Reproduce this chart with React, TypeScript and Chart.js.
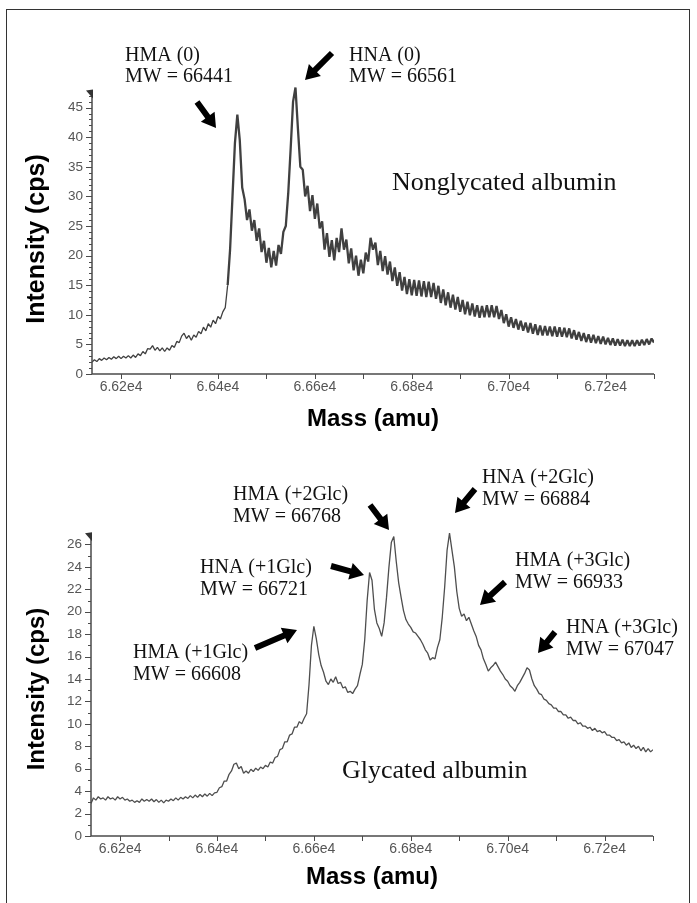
import { useEffect, useRef } from "react";
import { Chart, registerables } from "chart.js";

Chart.register(...registerables);

// ---------- data ----------
const MASS_START = 66140; // first sample (amu)
const MASS_STEP = 5; // sample spacing (amu)
const MASS_MIN = 66140;
const MASS_MAX = 67300;

// Nonglycated albumin, intensity (cps) sampled every 5 amu from 66140 to 67300
const nonglycatedIntensity = [
  2.0, 2.4, 2.1, 2.6, 2.3, 2.7, 2.4, 2.8, 2.5, 2.9, 2.6, 3.0, 2.6, 3.0, 2.7, 3.1, 2.7, 3.2, 2.8, 3.4,
  3.1, 3.8, 3.4, 4.3, 4.2, 4.8, 4.0, 4.5, 3.9, 4.4, 3.8, 4.4, 4.0, 4.8, 4.5, 5.5, 5.3, 6.4, 6.9, 6.0,
  6.5, 5.7, 6.6, 6.2, 7.2, 6.8, 7.9, 7.3, 8.5, 7.9, 9.1, 8.5, 9.7, 9.3, 10.5, 11.2, 15, 21, 30, 39,
  43.8, 39.5, 31.5, 29.5, 26, 27.8, 24.2, 26.0, 22.5, 24.6, 20.6, 22.5, 18.8, 21.3, 18.0, 20.8, 18.3, 21.8, 20.3, 24,
  25, 30.5, 38, 46, 48.4, 41.5, 35, 34.5, 30, 31.8, 27.5, 30.2, 26.2, 28.8, 24.6, 25.8, 21.0, 23.8, 19.8, 22.6,
  19.2, 23.0, 20.6, 24.6, 21.0, 22.7, 18.7, 21.2, 17.5, 20.0, 16.6, 19.3, 17.0, 20.5, 19.0, 23.0, 21.0, 22.2, 18.4, 20.8,
  17.4, 19.9, 16.8, 19.0, 15.7, 18.0, 14.9, 17.2, 14.1, 16.4, 13.5, 16.0, 13.3, 15.9, 13.2, 15.8, 13.1, 15.7, 13.0, 15.6,
  13.0, 15.4, 12.7, 14.9, 12.0, 14.3, 11.6, 13.8, 11.2, 13.4, 10.9, 13.0, 10.5, 12.5, 10.1, 12.2, 9.9, 11.9, 9.7, 11.6,
  9.5, 11.5, 9.6, 11.6, 9.6, 11.6, 9.6, 11.5, 9.3, 10.8, 8.6, 10.1, 8.0, 9.6, 7.8, 9.3, 7.5, 9.0, 7.3, 8.7,
  7.0, 8.6, 6.8, 8.4, 6.6, 8.2, 6.5, 8.1, 6.5, 8.0, 6.4, 8.0, 6.3, 7.9, 6.3, 7.8, 6.2, 7.7, 6.0, 7.4,
  5.8, 7.1, 5.6, 6.9, 5.4, 6.7, 5.3, 6.6, 5.2, 6.4, 5.1, 6.3, 5.0, 6.1, 4.9, 6.0, 4.8, 5.9, 4.8, 5.8,
  4.7, 5.7, 4.7, 5.7, 4.7, 5.7, 4.8, 5.8, 4.9, 5.9, 5.0, 6.0, 5.3,
];

// Glycated albumin, intensity (cps) sampled every 5 amu from 66140 to 67300
const glycatedIntensity = [
  2.9, 3.4, 3.2, 3.5, 3.3, 3.4, 3.2, 3.5, 3.3, 3.4, 3.2, 3.5, 3.3, 3.45, 3.2, 3.3, 3.1, 3.2, 3.0, 3.15,
  3.0, 3.3, 3.1, 3.25, 3.1, 3.3, 3.05, 3.25, 3.0, 3.2, 2.95, 3.2, 3.1, 3.3, 3.15, 3.4, 3.2, 3.45, 3.3, 3.5,
  3.35, 3.6, 3.4, 3.65, 3.45, 3.7, 3.5, 3.75, 3.55, 3.8, 3.6, 3.85, 3.9, 4.3, 4.4, 4.9, 4.9, 5.5, 5.8, 6.4,
  6.5, 6.0, 6.2, 5.6, 5.8, 5.6, 5.95, 5.75, 6.05, 5.85, 6.15, 6.0, 6.3, 6.15, 6.6, 6.5, 7.0, 7.1, 7.7, 7.8,
  8.4, 8.4, 9.0, 9.1, 9.7, 9.7, 10.2, 10.0, 10.5, 10.9, 13.5, 17.0, 18.7, 17.6, 16.2, 15.2, 14.6, 13.8, 13.5, 14.0,
  13.7, 14.2, 13.6, 13.7, 13.2, 13.3, 12.8, 12.9, 12.7, 13.1, 13.4, 14.4, 15.3, 17.5, 21.0, 23.5, 22.8, 20.2, 19.0, 18.5,
  17.8, 19.0, 21.3, 24.0, 26.2, 26.7, 24.5, 22.6, 21.3, 20.1, 19.3, 18.9, 18.6, 18.2, 18.1, 17.8, 17.5, 17.1, 16.6, 16.3,
  15.7, 15.9, 15.8, 16.8, 17.5, 19.5, 22.2, 25.5, 27.0, 25.5, 24.0, 21.8, 20.3, 19.6, 19.8, 19.2, 19.5, 18.9, 18.3, 17.8,
  17.0, 16.6, 15.8, 15.3, 14.7, 15.0, 15.2, 15.5, 15.1, 14.7, 14.4, 14.0, 13.8, 13.4, 13.2, 12.9, 13.4, 13.7, 14.1, 14.5,
  15.0, 14.8, 14.0, 13.4, 13.1, 12.7, 12.6, 12.2, 12.1, 11.8, 11.7, 11.4, 11.4, 11.1, 11.1, 10.8, 10.8, 10.5, 10.6, 10.3,
  10.3, 10.0, 10.1, 9.8, 9.8, 9.6, 9.7, 9.4, 9.6, 9.3, 9.4, 9.2, 9.3, 9.0, 9.0, 8.8, 8.8, 8.5, 8.6, 8.3,
  8.4, 8.1, 8.3, 7.9, 8.1, 7.8, 8.0, 7.6, 7.9, 7.5, 7.8, 7.5, 7.7,
];

const X_TICK_STEP = 100;
const X_LABEL_STEP = 200;
const X_TICK_FIRST = 66200;

const topYMax = 50;
const topYAxisTop = 47.7;
const topYLabelMax = 45;
const topYMajor = 5;

const botYMax = 28;
const botYAxisTop = 26.9;
const botYLabelMax = 26;
const botYMajor = 2;

const topAnnotations = [
  { lines: ["HMA (0)", "MW = 66441"] },
  { lines: ["HNA (0)", "MW = 66561"] },
];
const topCaption = "Nonglycated albumin";

const botAnnotations = [
  { lines: ["HMA (+2Glc)", "MW = 66768"] },
  { lines: ["HNA (+1Glc)", "MW = 66721"] },
  { lines: ["HMA (+1Glc)", "MW = 66608"] },
  { lines: ["HNA (+2Glc)", "MW = 66884"] },
  { lines: ["HMA (+3Glc)", "MW = 66933"] },
  { lines: ["HNA (+3Glc)", "MW = 67047"] },
];
const botCaption = "Glycated albumin";

const xTitle = "Mass (amu)";
const yTitle = "Intensity (cps)";

// ---------- layout / style (page pixel positions) ----------
const SANS = '"Liberation Sans", Arial, Helvetica, sans-serif';
const SERIF = '"Liberation Serif", "Times New Roman", Times, serif';
const AXIS_COLOR = "#4a4a4a";
const TICK_TEXT = "#555555";

const topLayout = {
  area: { left: 92, right: 654, top: 78, bottom: 374 },
  yTitle: { x: 37, y: 239, size: 25 },
  xTitle: { x: 373, y: 419, size: 24 },
  notes: [
    { x: 125, y: 61, arrow: [197, 102, 216, 128] },
    { x: 349, y: 61, arrow: [332, 53, 305, 80] },
  ],
  lineGap: 21,
  caption: { x: 392, y: 190, size: 26 },
  lineColor: "#404040",
  thinWidth: 1.3,
  thickWidth: 2.3,
  thickFrom: 66418,
};

const botLayout = {
  area: { left: 91, right: 653, top: 522, bottom: 836 },
  yTitle: { x: 37, y: 689, size: 24 },
  xTitle: { x: 372, y: 877, size: 24 },
  notes: [
    { x: 233, y: 500, arrow: [370, 505, 389, 530] },
    { x: 200, y: 573, arrow: [331, 566, 364, 575] },
    { x: 133, y: 658, arrow: [255, 648, 297, 630] },
    { x: 482, y: 483, arrow: [475, 489, 455, 513] },
    { x: 515, y: 566, arrow: [505, 582, 480, 605] },
    { x: 566, y: 633, arrow: [555, 632, 538, 653] },
  ],
  lineGap: 22,
  caption: { x: 342, y: 778, size: 26 },
  lineColor: "#4e4e4e",
  thinWidth: 1.3,
  thickWidth: 1.3,
  thickFrom: 66140,
};

const W = 697;
const H = 903;

function drawArrow(ctx: CanvasRenderingContext2D, x1: number, y1: number, x2: number, y2: number) {
  const ang = Math.atan2(y2 - y1, x2 - x1);
  const len = Math.hypot(x2 - x1, y2 - y1);
  const headLen = 14;
  const headHalf = 8.5;
  const shaftHalf = 3;
  ctx.save();
  ctx.translate(x1, y1);
  ctx.rotate(ang);
  ctx.beginPath();
  ctx.moveTo(0, -shaftHalf);
  ctx.lineTo(len - headLen, -shaftHalf);
  ctx.lineTo(len - headLen, -headHalf);
  ctx.lineTo(len, 0);
  ctx.lineTo(len - headLen, headHalf);
  ctx.lineTo(len - headLen, shaftHalf);
  ctx.lineTo(0, shaftHalf);
  ctx.closePath();
  ctx.fillStyle = "#000";
  ctx.fill();
  ctx.restore();
}

function framePlugin(key: string, layout: any, yAxisTop: number, yMajor: number, notes: any[], caption: string) {
  return {
    id: "frame" + key,
    afterDraw(chart: any) {
      const ctx: CanvasRenderingContext2D = chart.ctx;
      const a = chart.chartArea;
      const xs = chart.scales.x;
      const ys = chart.scales.y;
      ctx.save();
      ctx.strokeStyle = AXIS_COLOR;
      ctx.fillStyle = AXIS_COLOR;
      // x axis
      ctx.lineWidth = 1.5;
      ctx.beginPath();
      ctx.moveTo(a.left, a.bottom);
      ctx.lineTo(a.right, a.bottom);
      ctx.stroke();
      ctx.lineWidth = 1;
      ctx.beginPath();
      for (let m = X_TICK_FIRST; m <= MASS_MAX; m += X_TICK_STEP) {
        const px = Math.round(xs.getPixelForValue(m)) + 0.5;
        ctx.moveTo(px, a.bottom);
        ctx.lineTo(px, a.bottom + 5);
      }
      ctx.stroke();
      // y axis
      const yTop = ys.getPixelForValue(yAxisTop);
      ctx.lineWidth = 1.5;
      ctx.beginPath();
      ctx.moveTo(a.left, a.bottom);
      ctx.lineTo(a.left, yTop);
      ctx.stroke();
      ctx.lineWidth = 1;
      ctx.beginPath();
      for (let v = 0; v <= Math.floor(yAxisTop); v += 1) {
        const py = Math.round(ys.getPixelForValue(v)) + 0.5;
        const len = v % yMajor === 0 ? 6 : 3;
        ctx.moveTo(a.left - len, py);
        ctx.lineTo(a.left, py);
      }
      ctx.stroke();
      // axis arrowhead
      ctx.fillStyle = "#333";
      ctx.beginPath();
      ctx.moveTo(a.left + 1, yTop - 2);
      ctx.lineTo(a.left + 1, yTop + 7);
      ctx.lineTo(a.left - 6, yTop - 1);
      ctx.closePath();
      ctx.fill();

      // axis titles
      ctx.fillStyle = "#000";
      ctx.textAlign = "center";
      ctx.textBaseline = "middle";
      ctx.font = `bold ${layout.xTitle.size}px ${SANS}`;
      ctx.fillText(xTitle, layout.xTitle.x, layout.xTitle.y);
      ctx.save();
      ctx.translate(layout.yTitle.x, layout.yTitle.y);
      ctx.rotate(-Math.PI / 2);
      ctx.font = `bold ${layout.yTitle.size}px ${SANS}`;
      ctx.fillText(yTitle, 0, 0);
      ctx.restore();

      // annotations
      ctx.textAlign = "left";
      ctx.textBaseline = "alphabetic";
      ctx.fillStyle = "#111";
      ctx.font = `20px ${SERIF}`;
      notes.forEach((n, i) => {
        const pos = layout.notes[i];
        n.lines.forEach((line: string, j: number) => {
          ctx.fillText(line, pos.x, pos.y + j * layout.lineGap);
        });
        const [x1, y1, x2, y2] = pos.arrow;
        drawArrow(ctx, x1, y1, x2, y2);
      });
      ctx.fillStyle = "#111";
      ctx.font = `${layout.caption.size}px ${SERIF}`;
      ctx.fillText(caption, layout.caption.x, layout.caption.y);
      ctx.restore();
    },
  };
}

function makeConfig(
  key: string,
  values: number[],
  layout: any,
  yMax: number,
  yAxisTop: number,
  yLabelMax: number,
  yMajor: number,
  notes: any[],
  caption: string
): any {
  const area = layout.area;
  return {
    type: "line",
    data: {
      datasets: [
        {
          data: values.map((v, i) => ({ x: MASS_START + i * MASS_STEP, y: v })),
          borderColor: layout.lineColor,
          borderWidth: layout.thinWidth,
          borderJoinStyle: "bevel",
          segment: {
            borderWidth: (c: any) => (c.p0.parsed.x >= layout.thickFrom ? layout.thickWidth : layout.thinWidth),
          },
          pointRadius: 0,
          tension: 0,
          fill: false,
        },
      ],
    },
    options: {
      animation: false,
      responsive: false,
      events: [],
      layout: {
        padding: { left: 0, right: W - area.right, top: area.top, bottom: H - area.bottom - 30 },
      },
      plugins: { legend: { display: false }, tooltip: { enabled: false }, title: { display: false } },
      scales: {
        x: {
          type: "linear",
          min: MASS_MIN,
          max: MASS_MAX,
          afterFit: (s: any) => {
            s.height = 30;
          },
          grid: { display: false, drawTicks: false },
          border: { display: false },
          ticks: {
            stepSize: X_TICK_STEP,
            includeBounds: false,
            autoSkip: false,
            maxRotation: 0,
            minRotation: 0,
            padding: 5,
            color: TICK_TEXT,
            font: { family: SANS, size: 14 },
            callback: (v: number) => (v % X_LABEL_STEP === 0 ? (v / 1e4).toFixed(2) + "e4" : ""),
          },
        },
        y: {
          type: "linear",
          min: 0,
          max: yMax,
          afterFit: (s: any) => {
            s.width = area.left;
          },
          grid: { display: false, drawTicks: false },
          border: { display: false },
          ticks: {
            stepSize: 1,
            autoSkip: false,
            padding: 9,
            color: TICK_TEXT,
            font: { family: SANS, size: 13.5 },
            callback: (v: number) => (v % yMajor === 0 && v <= yLabelMax ? String(v) : ""),
          },
        },
      },
    },
    plugins: [framePlugin(key, layout, yAxisTop, yMajor, notes, caption)],
  };
}

export default function App() {
  const topRef = useRef<HTMLCanvasElement>(null);
  const botRef = useRef<HTMLCanvasElement>(null);

  useEffect(() => {
    const c1 = new Chart(
      topRef.current as HTMLCanvasElement,
      makeConfig("top", nonglycatedIntensity, topLayout, topYMax, topYAxisTop, topYLabelMax, topYMajor, topAnnotations, topCaption)
    );
    const c2 = new Chart(
      botRef.current as HTMLCanvasElement,
      makeConfig("bot", glycatedIntensity, botLayout, botYMax, botYAxisTop, botYLabelMax, botYMajor, botAnnotations, botCaption)
    );
    return () => {
      c1.destroy();
      c2.destroy();
    };
  }, []);

  return (
    <div
      style={{
        position: "fixed",
        left: 0,
        top: 0,
        width: W,
        height: H,
        background: "#fff",
        overflow: "hidden",
      }}
    >
      <div
        style={{
          position: "absolute",
          left: 6,
          top: 9,
          width: 684,
          height: 900,
          border: "1.5px solid #333",
          boxSizing: "border-box",
        }}
      />
      <canvas ref={topRef} width={W} height={H} style={{ position: "absolute", left: 0, top: 0 }} />
      <canvas ref={botRef} width={W} height={H} style={{ position: "absolute", left: 0, top: 0 }} />
    </div>
  );
}
